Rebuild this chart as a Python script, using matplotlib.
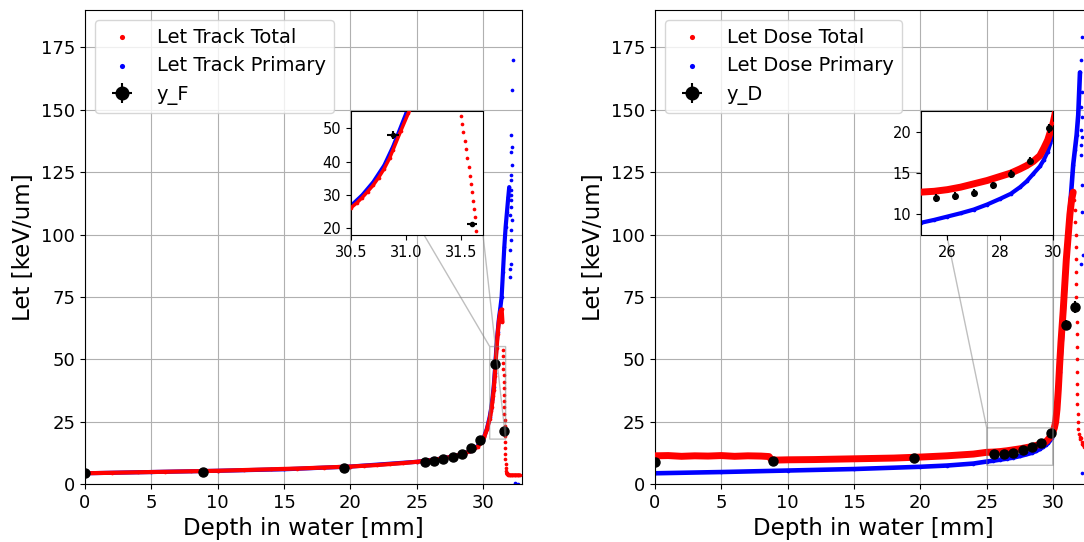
import matplotlib
matplotlib.use("Agg")
import matplotlib.pyplot as plt

# ---- Let Track (left panel) ----
track_total_x = [0, 2, 4, 6, 8, 10, 12, 14, 16, 18, 20, 21, 22, 23, 24, 25, 25.5, 26, 26.5,
                 27, 27.5, 28, 28.5, 29, 29.3, 29.6, 29.9, 30.1, 30.3, 30.5, 30.55, 30.6, 30.65,
                 30.7, 30.75, 30.8, 30.85, 30.88, 30.95, 31.02, 31.1, 31.2, 31.3, 31.4, 31.46]
track_total_y = [4.3, 4.5, 4.7, 4.9, 5.1, 5.3, 5.6, 5.9, 6.2, 6.6, 7.0, 7.3, 7.6, 8.0, 8.4,
                 8.9, 9.2, 9.5, 9.9, 10.3, 10.8, 11.4, 12.1, 13.1, 13.9, 15.0, 16.8, 19.0, 22.0,
                 26.2, 27.6, 29.2, 31.0, 32.9, 35.2, 37.8, 41.0, 43.4, 49.0, 54.4, 60.0, 65.5,
                 69.0, 70.0, 65.0]
track_total_fall_x = [31.500, 31.509, 31.521, 31.533, 31.546, 31.558, 31.570, 31.582, 31.591,
                      31.600, 31.612, 31.622, 31.631, 31.640, 31.65, 31.66, 31.67, 31.68,
                      31.70, 31.72, 31.75, 31.78]
track_total_fall_y = [53.6, 51.3, 48.7, 46.2, 43.6, 41.0, 38.4, 35.8, 33.4, 30.8, 28.2, 25.7,
                      23.4, 19.1, 17.0, 14.5, 12.0, 10.0, 8.0, 6.5, 5.2, 4.4]
track_total_tail_x = [31.8, 31.9, 32.0, 32.2, 32.4, 32.6, 32.75]
track_total_tail_y = [4.2, 3.7, 3.5, 3.5, 3.5, 3.5, 3.5]

track_primary_x = [0, 5, 10, 15, 20, 25, 27, 28, 29, 29.5, 30, 30.3, 30.5, 30.6, 30.7, 30.8,
                   30.88, 31.0, 31.1, 31.2, 31.3, 31.4, 31.5, 31.6, 31.7, 31.8, 31.9, 31.97]
track_primary_y = [4.3, 4.8, 5.3, 5.9, 7.0, 8.9, 10.3, 11.4, 13.1, 14.7, 17.8, 22.3, 26.9,
                   30.0, 33.9, 38.9, 44.5, 54.5, 61.0, 66.5, 70.5, 75.0, 85.0, 95.0, 103.0,
                   109.0, 115.0, 119.0]
track_primary_dots_x = [32.25, 32.2, 32.1, 32.15, 32.12, 32.18, 32.1, 32.14, 32.08, 32.12,
                        32.1, 32.15, 32.12, 32.1, 32.05, 32.08, 32.04, 32.06, 32.05, 32.07,
                        32.4, 32.5, 32.6]
track_primary_dots_y = [170, 158, 140, 135, 133, 128, 124, 122, 118, 114, 111, 106, 102, 98,
                        94, 88, 86, 83, 108, 116, 0.3, 0.2, 0.2]

y_F_x = [0, 8.9, 19.5, 25.6, 26.3, 27.0, 27.7, 28.4, 29.1, 29.8, 30.88, 31.6]
y_F_y = [4.5, 5.0, 6.4, 8.8, 9.3, 9.9, 10.9, 12.0, 14.3, 17.8, 48.0, 21.4]
y_F_xerr = [0.05, 0.05, 0.05, 0.05, 0.05, 0.05, 0.05, 0.05, 0.05, 0.05, 0.055, 0.045]
y_F_yerr = [0.2, 0.2, 0.3, 0.3, 0.3, 0.3, 0.3, 0.4, 0.4, 0.5, 1.2, 0.5]

# ---- Let Dose (right panel) ----
dose_total_x = [0, 1, 2, 3, 4, 5, 6, 7, 8, 8.6, 8.8, 9.2, 10, 12, 14, 16, 18, 20, 22, 24,
                25, 25.5, 26, 26.5, 27, 27.5, 28, 28.4, 28.75, 29.0, 29.25, 29.5, 29.65, 29.8,
                30.0, 30.1, 30.2, 30.3, 30.4, 30.5, 30.6, 30.76, 31.0, 31.27, 31.4, 31.52]
dose_total_y = [11.3, 11.4, 11.1, 11.3, 11.2, 11.4, 11.1, 11.3, 11.2, 11.0, 9.6, 9.6, 9.7,
                9.8, 10.0, 10.2, 10.4, 10.8, 11.3, 12.0, 12.7, 12.8, 13.0, 13.3, 13.7, 14.1,
                14.6, 15.0, 15.5, 15.9, 16.4, 17.1, 18.0, 19.0, 21.0, 22.5, 25.0, 30.0, 38.0,
                48.0, 57.0, 69.0, 90.0, 108.0, 114.0, 117.0]
dose_total_dots_x = [31.6, 31.65, 31.68, 31.7, 31.72, 31.73, 31.74, 31.75, 31.76, 31.77,
                     31.78, 31.78, 31.79, 31.8, 31.8, 31.81, 31.82, 31.83, 31.85, 31.87,
                     31.9, 31.95, 32.0, 32.05, 32.1, 32.15, 32.2, 32.25, 32.3]
dose_total_dots_y = [114, 110, 105, 100, 95, 90, 85, 80, 75, 70, 65, 60, 55, 50, 45, 40, 36,
                     32, 28, 25, 22, 20, 19, 18, 18.5, 17, 16, 15.5, 15]

dose_primary_x = [0, 5, 10, 15, 20, 22, 24, 25, 25.5, 26, 26.5, 27, 27.5, 28, 28.4, 28.75,
                  29.0, 29.25, 29.5, 29.65, 29.8, 29.9, 30.0, 30.25, 30.5, 30.76, 31.0, 31.27,
                  31.52, 31.65, 31.78, 31.9, 32.03]
dose_primary_y = [4.3, 4.8, 5.4, 6.0, 6.9, 7.4, 8.2, 9.0, 9.35, 9.75, 10.15, 10.6, 11.2,
                  11.9, 12.5, 13.3, 14.0, 14.9, 15.8, 16.6, 17.6, 18.6, 20.0, 27.0, 45.0,
                  65.0, 88.0, 110.0, 128.0, 134.0, 140.0, 148.0, 165.0]
dose_primary_dots_x = [32.15, 32.1, 32.2, 32.12, 32.18, 32.08, 32.22, 32.14, 32.1, 32.2,
                       32.16, 32.25, 32.12, 32.2]
dose_primary_dots_y = [179, 170, 157, 151, 147, 142, 139, 136, 132, 120, 109, 92, 88, 4.5]

y_D_x = [0, 8.9, 19.5, 25.57, 26.29, 27.0, 27.71, 28.4, 29.11, 29.83, 30.95, 31.62]
y_D_y = [9.0, 9.3, 10.5, 12.0, 12.2, 12.6, 13.5, 14.9, 16.5, 20.4, 63.7, 70.9]
y_D_xerr = [0.05] * 12
y_D_yerr = [0.3, 0.3, 0.4, 0.5, 0.5, 0.45, 0.45, 0.45, 0.45, 0.5, 2.0, 2.5]


def draw(ax, tot_bands, tot_dots, pri_bands, pri_dots, pts, labels, lw_tot, lw_pri, ms, elw):
    for bx, by in tot_bands:
        ax.plot(bx, by, color="red", lw=lw_tot, zorder=3, solid_capstyle="round")
    for bx, by in pri_bands:
        ax.plot(bx, by, color="blue", lw=lw_pri, zorder=2, solid_capstyle="round")
    tx = [v for b in tot_bands for v in b[0]] + tot_dots[0]
    ty = [v for b in tot_bands for v in b[1]] + tot_dots[1]
    px = [v for b in pri_bands for v in b[0]] + pri_dots[0]
    py = [v for b in pri_bands for v in b[1]] + pri_dots[1]
    ax.scatter(tx, ty, s=7, color="red", label=labels[0], zorder=3, linewidths=0)
    ax.scatter(px, py, s=7, color="blue", label=labels[1], zorder=2, linewidths=0)
    ax.errorbar(pts[0], pts[1], xerr=pts[2], yerr=pts[3], fmt="o", color="black",
                ms=ms, elinewidth=elw, label=labels[2], zorder=4)


fig = plt.figure(figsize=(10.84, 5.42), dpi=100)
ax1 = fig.add_axes([0.0784, 0.107, 0.4031, 0.8745])
ax2 = fig.add_axes([0.6042, 0.107, 0.4031, 0.8745])

track = dict(
    tot_bands=[(track_total_x, track_total_y), (track_total_tail_x, track_total_tail_y)],
    tot_dots=(track_total_fall_x, track_total_fall_y),
    pri_bands=[(track_primary_x, track_primary_y)],
    pri_dots=(track_primary_dots_x, track_primary_dots_y),
    pts=(y_F_x, y_F_y, y_F_xerr, y_F_yerr),
    labels=("Let Track Total", "Let Track Primary", "y_F"),
)
dose = dict(
    tot_bands=[(dose_total_x, dose_total_y)],
    tot_dots=(dose_total_dots_x, dose_total_dots_y),
    pri_bands=[(dose_primary_x, dose_primary_y)],
    pri_dots=(dose_primary_dots_x, dose_primary_dots_y),
    pts=(y_D_x, y_D_y, y_D_xerr, y_D_yerr),
    labels=("Let Dose Total", "Let Dose Primary", "y_D"),
)

draw(ax1, lw_tot=3.0, lw_pri=3.0, ms=6.5, elw=1.5, **track)
draw(ax2, lw_tot=5.0, lw_pri=3.3, ms=6.5, elw=1.5, **dose)

for ax in (ax1, ax2):
    ax.set_xlim(0, 32.93)
    ax.set_ylim(0, 190)
    ax.set_xticks([0, 5, 10, 15, 20, 25, 30])
    ax.set_yticks([0, 25, 50, 75, 100, 125, 150, 175])
    ax.tick_params(labelsize=13)
    ax.grid(True)
    ax.set_xlabel("Depth in water [mm]", fontsize=16.5)
    ax.set_ylabel("Let [keV/um]", fontsize=16.5)
    ax.legend(loc="upper left", fontsize=14, markerscale=1.4)

# insets
in1 = ax1.inset_axes([0.609, 0.525, 0.302, 0.262])
draw(in1, lw_tot=2.5, lw_pri=2.5, ms=3, elw=1.5, **track)
in1.set_xlim(30.5, 31.7)
in1.set_ylim(18, 55.1)
in1.set_xticks([30.5, 31.0, 31.5])
in1.set_yticks([20, 30, 40, 50])
in1.tick_params(labelsize=10.5)
ax1.indicate_inset_zoom(in1)

in2 = ax2.inset_axes([0.609, 0.525, 0.302, 0.262])
draw(in2, lw_tot=5.0, lw_pri=3.0, ms=4, elw=1.5, **dose)
in2.set_xlim(25, 30)
in2.set_ylim(7.5, 22.5)
in2.set_xticks([26, 28, 30])
in2.set_yticks([10, 15, 20])
in2.tick_params(labelsize=10.5)
ax2.indicate_inset_zoom(in2)

fig.savefig("out.png", dpi=100)
